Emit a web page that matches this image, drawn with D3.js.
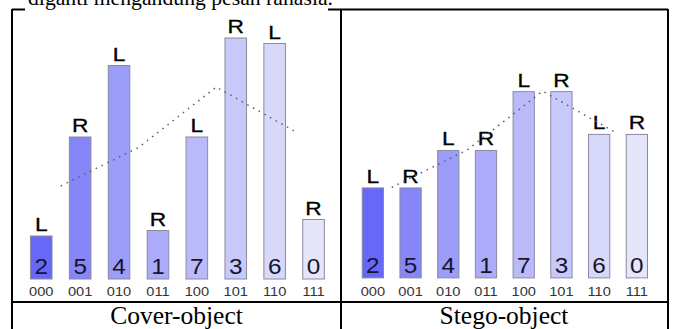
<!DOCTYPE html>
<html><head><meta charset="utf-8">
<script src="https://cdn.jsdelivr.net/npm/d3@7"></script>
<style>body{margin:0;background:#fff}svg{display:block}</style>
</head><body>
<svg id="c" width="675" height="329"></svg>
<script>
// ---- data ----
const bins = ["000","001","010","011","100","101","110","111"];
const digits = ["2","5","4","1","7","3","6","0"];
const sides = ["L","R","L","R","L","R","L","R"];
const coverValues = [8, 26, 39, 9, 26, 44, 43, 11];
const stegoValues = [17, 17, 24, 24, 35, 35, 27, 27];
const coverTrend = [17, 24, 35, 27];
const stegoTrend = [17, 24, 35, 27];
const barColors = ["#6868f8","#8686f8","#9c9cf9","#ababfa","#babafb","#c8c8fb","#d8d8fb","#e6e6fa"];
const captions = ["Cover-object","Stego-object"];
const topText = "diganti mengandung pesan rahasia.";

const svg = d3.select("#c");

// top text (partially clipped at the top edge, as in the reference)
svg.append("text").attr("x", 28).attr("y", 4.5)
  .attr("font-family","Liberation Serif, Times New Roman, serif").attr("font-size", 21)
  .attr("textLength", 305).attr("lengthAdjust","spacingAndGlyphs")
  .text(topText);

function drawChart(g, values, trend, x, y) {
  const bw = x.bandwidth();
  g.selectAll("rect.bar").data(values).join("rect").attr("class","bar")
    .attr("x", (d,i)=>x(bins[i])+0.5).attr("y", d=>y(d)+0.5)
    .attr("width", bw-1).attr("height", d=>y(0)-y(d)-1)
    .attr("fill", (d,i)=>barColors[i]).attr("stroke","#8a8aa0").attr("stroke-width",1);
  // digits inside
  g.selectAll("text.dig").data(digits).join("text").attr("class","dig")
    .attr("transform",(d,i)=>`translate(${x(bins[i])+bw/2},${y(0)-5.8}) scale(1.08,1)`)
    .attr("text-anchor","middle").attr("font-family","Liberation Sans, Arial, sans-serif")
    .attr("font-size",22.5).attr("fill","#15152a").text(d=>d);
  // L/R letters
  g.selectAll("text.side").data(values).join("text").attr("class","side")
    .attr("transform",(d,i)=>`translate(${x(bins[i])+bw/2},${y(d)-4.5}) scale(1.3,1)`)
    .attr("text-anchor","middle").attr("font-family","Liberation Sans, Arial, sans-serif")
    .attr("font-size",17.5).attr("fill","#000")
    .attr("stroke","#000").attr("stroke-width",0.3).text((d,i)=>sides[i]);
  // bin labels
  g.selectAll("text.bin").data(bins).join("text").attr("class","bin")
    .attr("transform",(d)=>`translate(${x(d)+bw/2},${295.5}) scale(1.22,1)`)
    .attr("text-anchor","middle").attr("font-family","Liberation Sans, Arial, sans-serif")
    .attr("font-size",12).attr("fill","#333").text(d=>d);
  // dotted trend through pair centers
  const pts = trend.map((v,k)=>[(x(bins[2*k])+x(bins[2*k+1])+bw)/2, y(v)]);
  g.append("path").attr("d", d3.line()(pts)).attr("fill","none")
    .attr("stroke","#5c5c6c").attr("stroke-width",1.5).attr("stroke-dasharray","1.5,5");
}

const xL = d3.scaleBand().domain(bins).range([21.8, 333]).paddingInner(0.42).paddingOuter(0.21);
const yL = d3.scaleLinear().domain([0,44]).range([279.5, 37.5]);
drawChart(svg.append("g"), coverValues, coverTrend, xL, yL);

const xR = d3.scaleBand().domain(bins).range([354, 655.7]).paddingInner(0.41).paddingOuter(0.205);
const yR = d3.scaleLinear().domain([0,35]).range([278.4, 91.1]);
drawChart(svg.append("g"), stegoValues, stegoTrend, xR, yR);

// table lines
const lines = [
  [12,9.5,25,9.5],[328,9.5,668,9.5],
  [12,9,12,329],[341,9,341,329],[668,9,668,329],
  [12,302,668,302]
];
svg.selectAll("line.t").data(lines).join("line").attr("class","t")
  .attr("x1",d=>d[0]).attr("y1",d=>d[1]).attr("x2",d=>d[2]).attr("y2",d=>d[3])
  .attr("stroke","#000").attr("stroke-width",2);

// captions
svg.selectAll("text.cap").data(captions).join("text").attr("class","cap")
  .attr("x",(d,i)=>i===0?176.5:504).attr("y",323.5)
  .attr("text-anchor","middle").attr("font-family","Liberation Serif, Times New Roman, serif")
  .attr("font-size",25.5).attr("fill","#000").text(d=>d);
</script>
</body></html>
